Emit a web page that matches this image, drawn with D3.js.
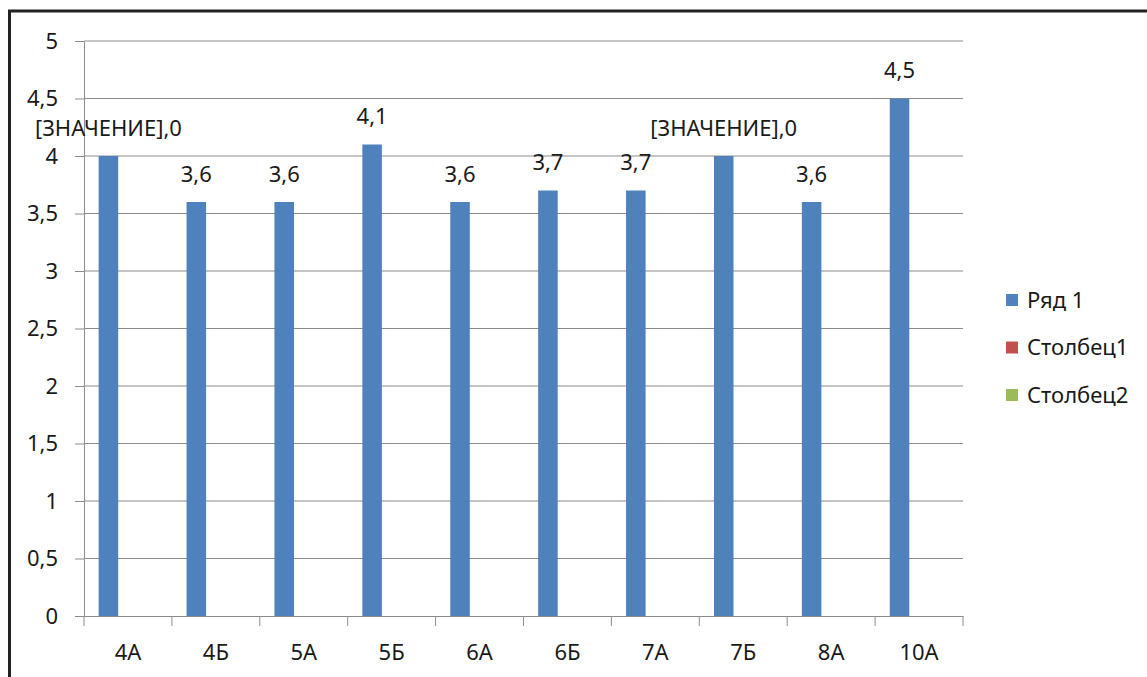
<!DOCTYPE html>
<html>
  <head>
    <meta charset="utf-8">
    <title>Ряд 1</title>
    <script src="https://d3js.org/d3.v7.min.js"></script>
    <style>
      body { margin: 0; background: #fff; }
      svg { display: block; font-family: "Noto Sans", sans-serif; }
      .domain, .tick line { stroke: #8c8c8c; }
    </style>
  </head>
  <body>
    <svg id="chart" width="1147" height="677"></svg>
    <script>
      // data
      categories = ["4А", "4Б", "5А", "5Б", "6А", "6Б", "7А", "7Б", "8А", "10А"];
      series = ["Ряд 1", "Столбец1", "Столбец2"];
      values = [4.0, 3.6, 3.6, 4.1, 3.6, 3.7, 3.7, 4.0, 3.6, 4.5];
      labels = ["[ЗНАЧЕНИЕ],0", "3,6", "3,6", "4,1", "3,6", "3,7", "3,7", "[ЗНАЧЕНИЕ],0", "3,6", "4,5"];
      yTicks = [0, 0.5, 1, 1.5, 2, 2.5, 3, 3.5, 4, 4.5, 5];
      colours = ["#4f81bd", "#c0504d", "#9bbb59"];
      fontSize = 22;
      textColour = "#1a1a1a";

      svg = d3.select("#chart");
      margin = { top: 41, left: 84, right: 184, bottom: 61 };
      width = 1147 - margin.left - margin.right;
      height = 677 - margin.top - margin.bottom;

      // outer frame
      svg.append("rect")
        .attr("x", 9.5)
        .attr("y", 11)
        .attr("width", 1200)
        .attr("height", 800)
        .attr("fill", "none")
        .attr("stroke", "#222")
        .attr("stroke-width", 3);

      g = svg.append("g")
        .attr("transform", "translate(" + margin.left + "," + margin.top + ")");

      x = d3.scaleBand()
        .domain(categories)
        .range([0, width])
        .paddingInner(0)
        .paddingOuter(0);
      // three series per group, gap width 150%
      xs = d3.scaleBand()
        .domain(series)
        .range([0, x.bandwidth()])
        .paddingOuter(0.75)
        .paddingInner(0);
      y = d3.scaleLinear()
        .domain([0, 5])
        .range([height, 0]);

      // gridlines
      g.append("g")
        .selectAll("line")
        .data(yTicks.slice(1))
        .join("line")
          .attr("x1", 0)
          .attr("x2", width)
          .attr("y1", function(d) { return y(d); })
          .attr("y2", function(d) { return y(d); })
          .attr("stroke", "#8c8c8c");

      // y axis
      yAxis = g.append("g")
        .call(d3.axisLeft(y)
          .tickValues(yTicks)
          .tickSize(9)
          .tickPadding(17)
          .tickSizeOuter(0)
          .tickFormat(function(d) { return String(d).replace(".", ","); }));

      // x axis with ticks between categories
      xAxis = g.append("g")
        .attr("transform", "translate(0," + height + ")")
        .call(d3.axisBottom(x).tickSize(0).tickPadding(36));
      xAxis.selectAll(".tick text").attr("dy", "0.35em");
      xAxis.selectAll(".sep")
        .data(d3.range(categories.length + 1))
        .join("line")
          .classed("sep", true)
          .attr("x1", function(i) { return i * x.step(); })
          .attr("x2", function(i) { return i * x.step(); })
          .attr("y1", 0)
          .attr("y2", 10)
          .attr("stroke", "#8c8c8c");
      g.selectAll(".tick text")
        .attr("font-size", fontSize)
        .attr("fill", textColour);
      g.selectAll("g").attr("font-family", null);

      // bars
      g.append("g")
        .selectAll("rect")
        .data(values)
        .join("rect")
          .attr("x", function(d, i) { return x(categories[i]) + xs(series[0]); })
          .attr("y", function(d) { return y(d); })
          .attr("width", xs.bandwidth())
          .attr("height", function(d) { return height - y(d); })
          .attr("fill", colours[0]);

      // data labels
      g.append("g")
        .selectAll("text")
        .data(values)
        .join("text")
          .attr("x", function(d, i) { return x(categories[i]) + xs(series[0]) + xs.bandwidth() / 2; })
          .attr("y", function(d) { return y(d) - 28; })
          .attr("dy", "0.35em")
          .attr("text-anchor", "middle")
          .attr("font-size", fontSize)
          .attr("fill", textColour)
          .text(function(d, i) { return labels[i]; });

      // legend
      legend = svg.append("g")
        .attr("transform", "translate(1006,300)");
      legend.selectAll("g")
        .data(series)
        .join("g")
          .attr("transform", function(d, i) { return "translate(0," + (i * 47.5) + ")"; })
          .each(function(d, i) {
            item = d3.select(this);
            item.append("rect")
              .attr("x", 0)
              .attr("y", -6)
              .attr("width", 12)
              .attr("height", 12)
              .attr("fill", colours[i]);
            item.append("text")
              .attr("x", 21)
              .attr("dy", "0.35em")
              .attr("font-size", fontSize)
              .attr("fill", textColour)
              .text(d);
          });
    </script>
  </body>
</html>
